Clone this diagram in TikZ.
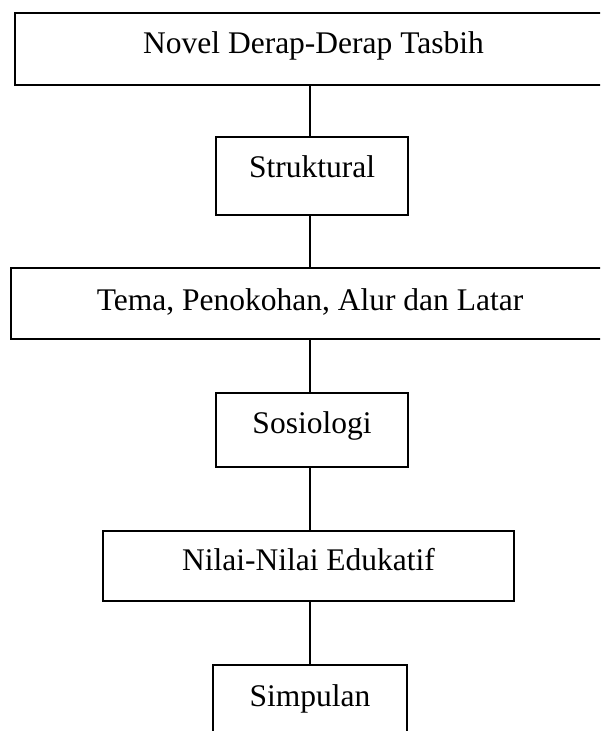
\documentclass[tikz,border=0pt]{standalone}
\usepackage{fontspec}
\setmainfont{Liberation Serif}
\begin{document}
\begin{tikzpicture}[x=1pt,y=-1pt,
  box/.style={draw=black, line width=1.3pt, inner sep=0pt, text height=22pt,
    font=\fontsize{31.5}{36}\selectfont},
  link/.style={draw=black, line width=1.3pt}]
\clip (0,0) rectangle (600,731);
\fill[white] (0,0) rectangle (600,731);
\node[box, minimum width=597pt, minimum height=72pt, text depth=14pt] (n1) at (313.5,49) {Novel Derap-Derap Tasbih};
\node[box, minimum width=192pt, minimum height=78pt, text depth=20pt] (n2) at (312,176) {Struktural};
\node[box, minimum width=598pt, minimum height=71pt, text depth=9pt] (n3) at (310,303.5) {Tema, Penokohan, Alur dan Latar};
\node[box, minimum width=192pt, minimum height=74pt, text depth=16pt] (n4) at (312,430) {Sosiologi};
\node[box, minimum width=411pt, minimum height=70pt, text depth=14pt] (n5) at (308.5,566) {Nilai-Nilai Edukatif};
\node[box, minimum width=194pt, minimum height=72pt, text depth=12pt] (n6) at (310,701) {Simpulan};
\coordinate (lx) at (310,0);
\draw[link] (n1.south -| lx) -- (n2.north -| lx);
\draw[link] (n2.south -| lx) -- (n3.north -| lx);
\draw[link] (n3.south -| lx) -- (n4.north -| lx);
\draw[link] (n4.south -| lx) -- (n5.north -| lx);
\draw[link] (n5.south -| lx) -- (n6.north -| lx);
\end{tikzpicture}
\end{document}
